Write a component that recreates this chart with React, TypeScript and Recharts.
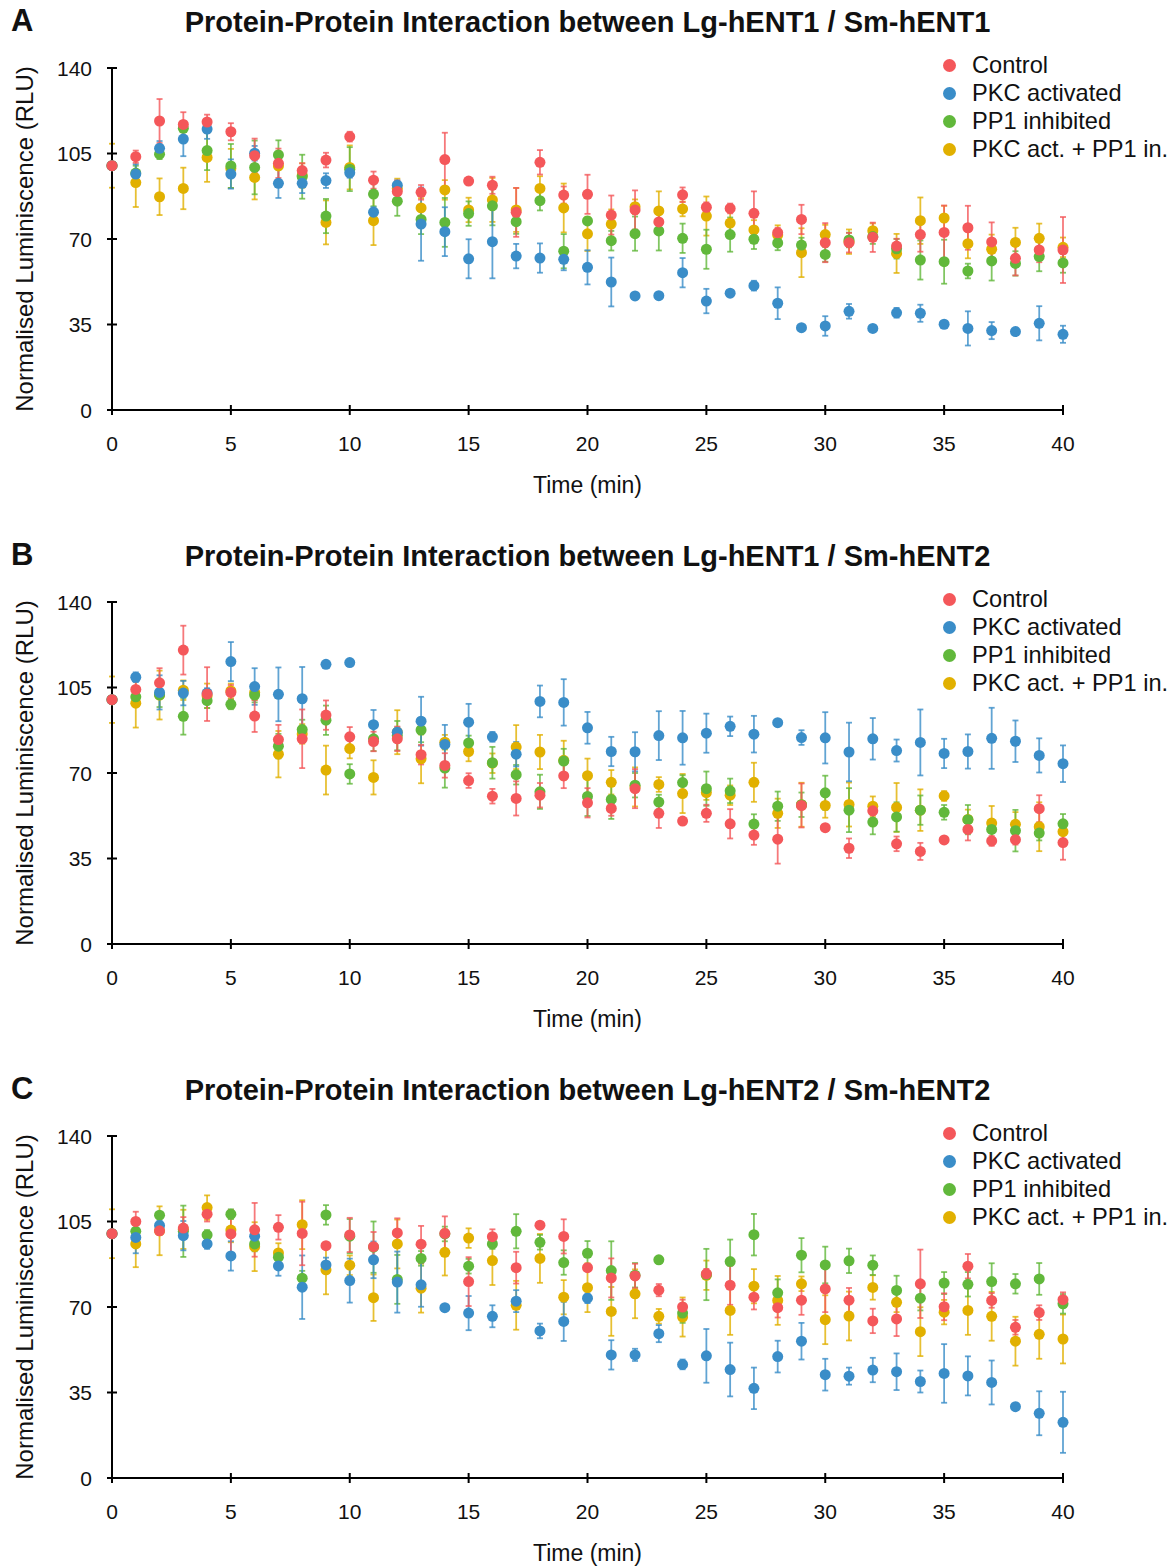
import React from 'react';
import { ScatterChart, Scatter, XAxis, YAxis, ErrorBar } from 'recharts';

// time points (min)
const time = [0, 1, 2, 3, 4, 5, 6, 7, 8, 9, 10, 11, 12, 13, 14, 15, 16, 17, 18, 19, 20, 21, 22, 23, 24, 25, 26, 27, 28, 29, 30, 31, 32, 33, 34, 35, 36, 37, 38, 39, 40];
const xTicks = [0, 5, 10, 15, 20, 25, 30, 35, 40];
const yTicks = [0, 35, 70, 105, 140];

const seriesNames = ['Control', 'PKC activated', 'PP1 inhibited', 'PKC act. + PP1 in.'];
const seriesColors = ['#F4575A', '#3A8DC8', '#61B83B', '#E1B000'];

const titles = [
  'Protein-Protein Interaction between Lg-hENT1 / Sm-hENT1',
  'Protein-Protein Interaction between Lg-hENT1 / Sm-hENT2',
  'Protein-Protein Interaction between Lg-hENT2 / Sm-hENT2',
];
const letters = ['A', 'B', 'C'];

// Panel A
const controlA = [100, 103.7, 118.3, 116.9, 117.9, 113.9, 104.1, 101, 98, 102.3, 111.9, 94.1, 89.4, 89.1, 102.5, 93.7, 92, 80.9, 101.4, 88, 88.3, 79.8, 81.9, 77, 88.1, 83, 82.5, 80.5, 72.6, 78, 68.5, 68.5, 70.7, 67.1, 71.8, 72.7, 74.6, 68.8, 62.1, 65.5, 65.5];
const controlAErr = [0, 2.5, 9, 5, 3, 3.5, 7, 6, 3, 3, 2, 3.5, 4.5, 3, 11, 1, 3.5, 10, 5, 3.5, 8, 8, 8, 4, 3, 2, 2, 9, 2, 6, 8, 4, 6, 3, 7, 11, 9, 8, 7, 5, 13.5];
const pkcA = [100, 96.6, 107.1, 110.9, 115, 96.6, 105.1, 92.8, 92.8, 93.9, 97.1, 81, 92, 76.1, 73, 61.9, 68.9, 63, 62.2, 61.7, 58.4, 52.4, 46.7, 46.8, 56.2, 44.6, 47.8, 50.9, 43.7, 33.7, 34.4, 40.4, 33.4, 39.8, 39.6, 35.1, 33.4, 32.5, 32.1, 35.5, 31];
const pkcAErr = [0, 4, 3, 7, 4, 6, 3, 6, 4, 3, 2, 2, 2, 15, 10, 8, 15, 5, 6, 4.5, 7, 10, 1, 1, 6, 5, 1, 2, 6.5, 1, 4, 3, 1, 2, 3.5, 1, 7, 3.5, 1, 7, 3.5];
const pp1A = [100, 97, 104.7, 115.3, 106.2, 99.9, 99.3, 104.4, 95.5, 79.4, 98.6, 88.4, 85.5, 78, 76.8, 80.4, 83.6, 77.1, 85.7, 65, 77.4, 69.3, 72.2, 73.3, 70.3, 65.8, 71.8, 69.9, 68.4, 67.5, 63.7, 69.6, 71, 66, 61.4, 60.7, 56.9, 61, 60, 62.8, 60.2];
const pp1AErr = [0, 3, 2, 3, 8, 9, 11, 6, 9, 7, 9, 5, 6, 6, 10, 5, 8, 5, 4, 7, 1, 4, 7, 8, 6, 8, 7, 4, 3, 3, 3, 3, 3, 4, 8, 9, 3, 8, 5, 6, 4];
const comboA = [100, 93.1, 87.3, 90.7, 103.4, 98.9, 95.2, 99.9, 96, 76.8, 99.3, 77.5, 90.7, 82.7, 90.1, 81.9, 86, 81.9, 90.7, 82.7, 72.1, 76.1, 83.2, 81.5, 82.3, 79.4, 76.5, 73.7, 71.6, 64.4, 71.8, 68.9, 73.4, 64.1, 77.5, 78.6, 68.1, 65.8, 68.6, 70.3, 66.6];
const comboAErr = [9, 10, 7.5, 8.5, 10, 8, 9, 6, 5, 9, 9, 10, 4, 4, 4, 5, 9, 9, 5, 10, 7, 6, 3, 8, 3, 8, 5, 4, 4, 10, 4, 5, 3, 8, 9.5, 5, 6, 6, 6, 6, 4];

// Panel B
const controlB = [100, 104.2, 106.9, 120.3, 102.3, 103, 93.3, 83.7, 84, 93.7, 84.8, 82.9, 84, 77.5, 73.1, 66.9, 60.5, 59.6, 60.9, 68.8, 57.8, 55.5, 63.6, 53.5, 50.3, 53.5, 49.2, 44.6, 42.9, 56.7, 47.6, 39.2, 54.5, 41, 37.9, 42.6, 46.9, 42.2, 42.7, 55.4, 41.5];
const controlBErr = [0, 5.5, 6, 10, 11, 3, 6.5, 6, 12, 6, 4, 4, 5, 4, 5, 3, 3, 7, 5, 5, 6, 3, 8, 6, 1, 3.5, 6, 4, 10, 9, 1, 4, 3, 3, 3.5, 1, 4.5, 2, 2, 5.5, 7];
const pkcB = [100, 109.2, 103, 102.7, 102.7, 115.6, 105.4, 102.2, 100.4, 114.5, 115.2, 89.8, 86.7, 91.2, 81.7, 90.8, 84.8, 77.7, 99.3, 98.9, 88.5, 78.8, 78.7, 85.3, 84.4, 86.3, 89.1, 85.9, 90.6, 84.5, 84.4, 78.6, 84, 79.2, 82.5, 78, 78.8, 84.2, 83, 77.2, 73.8];
const pkcBErr = [0, 2, 7, 5, 2, 8, 7.5, 11, 13, 1, 1, 6, 2, 10, 8, 7.5, 2, 5, 6.5, 9.5, 6.5, 6, 8, 10, 11, 8, 4, 7.5, 1, 3, 10.5, 12, 8.5, 4.5, 13.5, 6, 7, 12.5, 8.5, 7, 7.5];
const pp1B = [100, 101.2, 102, 93.2, 99.6, 98.1, 101.9, 81, 87.8, 91.6, 69.6, 84, 85.3, 87.6, 72, 82.3, 74.2, 69.3, 62.3, 74.9, 60.4, 59.2, 65, 58.1, 66.1, 63.6, 62.7, 49.1, 56.4, 57, 61.9, 54.8, 49.9, 52, 54.8, 53.9, 50.9, 46.9, 46.4, 45.4, 49.2];
const pp1BErr = [0, 3, 5, 7.5, 3, 2, 3, 5, 4, 6, 4, 5, 6, 5, 8, 3, 6.5, 4, 7, 5, 8, 8, 5, 3, 3, 7, 5, 4, 6, 5, 7, 9, 5, 6, 6, 3, 6, 4, 8.5, 3, 4];
const comboB = [100, 98.6, 101.9, 103.9, 101.6, 103.6, 103, 77.7, 86, 71.2, 80, 68.2, 86.7, 75.8, 82.6, 78.8, 74, 80.6, 78.6, 75.2, 68.9, 66.2, 64.3, 65.3, 61.6, 62, 60.9, 66.2, 53.5, 57, 56.7, 57.1, 56.4, 55.9, 54.8, 60.6, 51, 49.5, 49, 48, 46];
const comboBErr = [9.5, 10, 10, 4, 5, 3, 3, 9.5, 4, 10, 4, 7, 9, 10, 3, 4, 4, 9, 7, 8, 7, 5, 8, 3, 8, 3, 4, 8, 6, 9, 5, 9, 4, 10, 8.5, 2, 4, 7, 5, 10, 4];

// Panel C
const controlC = [100, 105, 101.2, 102.3, 108, 99.9, 101.6, 102.6, 100.1, 95.1, 99.5, 94.7, 100.3, 95.7, 100.1, 80.4, 98.8, 86.1, 103.5, 98.9, 86.1, 81.9, 82.7, 76.9, 70, 83.6, 78.9, 74, 69.7, 72.8, 77.4, 72.8, 64.3, 65.1, 79.5, 70.1, 86.7, 72.7, 61.7, 67.7, 73];
const controlCErr = [0, 4, 1.5, 4.5, 3, 9.8, 11, 5, 13, 1, 7, 6, 6, 7.5, 7, 10, 3, 6.5, 1, 7, 1, 8, 5, 2.5, 3, 2, 8, 5, 4, 6, 9.5, 5, 5, 7, 14, 5.5, 5, 3, 3, 3, 3];
const pkcC = [100, 98.5, 103.4, 99.2, 95.8, 90.9, 99, 86.8, 78.1, 87.2, 80.8, 89.3, 80.2, 79.1, 69.7, 67.5, 66.2, 72.4, 60.2, 64.1, 73.6, 50.4, 50.4, 59.1, 46.5, 50, 44.4, 36.7, 49.7, 56, 42.3, 41.7, 44.2, 43.5, 39.5, 42.8, 41.8, 39.1, 29.2, 26.5, 22.8];
const pkcCErr = [0, 6.5, 2, 6, 2, 6, 3, 4, 13, 3, 9, 7.5, 12.5, 9, 1, 7, 4.5, 4.5, 3, 8, 2, 6, 2.5, 3.5, 2, 11, 11, 8.5, 6.5, 7.5, 6.5, 3.5, 5, 7.5, 4.5, 12, 8, 9, 1, 9, 12.5];
const pp1C = [100, 101, 107.6, 101, 99.5, 108, 95.8, 90.4, 81.8, 107.7, 99, 94.5, 81.3, 89.9, 99.9, 86.7, 95.8, 101, 96.5, 88.2, 92, 84.9, 83, 89.3, 67.5, 83.3, 88.6, 99.6, 75.8, 91.2, 87.2, 88.9, 87.1, 76.8, 73.6, 79.8, 79.3, 80.4, 79.5, 81.5, 71.3];
const pp1CErr = [0, 3, 1, 10.5, 2, 2, 3, 3, 3, 4, 7, 10.5, 10, 3, 3, 3, 2, 7, 3, 5, 5, 12, 5, 1, 4, 10.5, 9, 8.5, 5.5, 7, 7.5, 5, 4, 6, 5, 4.5, 5, 7.5, 4, 6.5, 4];
const comboC = [100, 95.8, 101.2, 101.8, 110.7, 101.5, 94.7, 92.1, 103.7, 85.2, 87.1, 73.8, 95.8, 77.7, 92.4, 98.2, 89, 70.7, 89.9, 74, 77.9, 68.2, 75.4, 66.2, 65.9, 83, 68.6, 78.5, 72.7, 79.5, 64.8, 66.3, 78, 71.9, 59.9, 67.9, 68.6, 66.2, 56, 58.8, 56.9];
const comboCErr = [10, 9.5, 10, 8, 5, 5, 10, 4, 10, 10, 4, 9.5, 10, 10, 9.5, 4, 10, 10, 10, 7, 10, 10, 10, 3, 8, 6, 10, 7, 10, 3, 10, 10, 5, 4, 10, 5, 10, 10, 10, 10, 10];

const panelValues = [
  [controlA, pkcA, pp1A, comboA],
  [controlB, pkcB, pp1B, comboB],
  [controlC, pkcC, pp1C, comboC],
];
const panelErrors = [
  [controlAErr, pkcAErr, pp1AErr, comboAErr],
  [controlBErr, pkcBErr, pp1BErr, comboBErr],
  [controlCErr, pkcCErr, pp1CErr, comboCErr],
];

const XTick = ({ x, y, payload }: any) => (
  <g>
    <line x1={x} x2={x} y1={y - 5} y2={y + 5} stroke="#000" strokeWidth={2} />
    <text x={x} y={y + 33} dy="0.36em" textAnchor="middle" fontSize={21} fill="#111">{payload.value}</text>
  </g>
);

const YTick = ({ x, y, payload }: any) => (
  <g>
    <line x1={x - 5} x2={x + 5} y1={y} y2={y} stroke="#000" strokeWidth={2} />
    <text x={x - 20} y={y} dy="0.36em" textAnchor="end" fontSize={21} fill="#111">{payload.value}</text>
  </g>
);

function Panel({ index }: { index: number }) {
  const values = panelValues[index];
  const errors = panelErrors[index];
  const series = seriesNames.map((name, s) => ({
    name,
    color: seriesColors[s],
    data: time.map((t, i) => ({ t, v: values[s][i], e: errors[s][i] })),
  }));
  // drawing order: last legend entry at the bottom, Control on top
  const drawOrder = [...series].reverse();

  return (
    <div style={{ position: 'absolute', left: 0, top: index * 534, width: 1176, height: 534 }}>
      <div style={{ position: 'absolute', left: 11, top: 3, fontSize: 31, fontWeight: 'bold', lineHeight: '36px' }}>{letters[index]}</div>
      <div style={{ position: 'absolute', left: 92, top: 4, width: 991, textAlign: 'center', fontSize: 29, fontWeight: 'bold', lineHeight: '36px' }}>{titles[index]}</div>
      <ScatterChart width={1176} height={534} margin={{ top: 68, right: 113, bottom: 34, left: 0 }}>
        <XAxis
          type="number"
          dataKey="t"
          domain={[0, 40]}
          ticks={xTicks}
          height={90}
          tickSize={0}
          tickMargin={0}
          tickLine={false}
          axisLine={{ stroke: '#000', strokeWidth: 2 }}
          tick={<XTick />}
          label={{ value: 'Time (min)', position: 'insideBottom', offset: 7, fontSize: 23, fill: '#111' }}
        />
        <YAxis
          type="number"
          dataKey="v"
          domain={[0, 140]}
          ticks={yTicks}
          width={112}
          tickSize={0}
          tickMargin={0}
          tickLine={false}
          axisLine={{ stroke: '#000', strokeWidth: 2 }}
          tick={<YTick />}
          label={{ value: 'Normalised Luminiscence (RLU)', angle: -90, position: 'insideLeft', offset: 24, fontSize: 24, fill: '#111', style: { textAnchor: 'middle' } }}
        />
        {drawOrder.map(s => (
          <Scatter
            key={s.name}
            name={s.name}
            data={s.data}
            fill={s.color}
            isAnimationActive={false}
            shape={(p: any) => <circle cx={p.cx} cy={p.cy} r={5.5} fill={s.color} />}
          >
            <ErrorBar dataKey="e" direction="y" width={3} stroke={s.color} strokeOpacity={0.8} strokeWidth={1.8} isAnimationActive={false} />
          </Scatter>
        ))}
      </ScatterChart>
      <div style={{ position: 'absolute', left: 943, top: 51 }}>
        {series.map(s => (
          <div key={s.name} style={{ display: 'flex', alignItems: 'center', height: 28.2, fontSize: 23.6, whiteSpace: 'nowrap' }}>
            <span style={{ display: 'inline-block', width: 13, height: 13, borderRadius: '50%', background: s.color, marginRight: 16 }} />
            <span>{s.name}</span>
          </div>
        ))}
      </div>
    </div>
  );
}

export default function App() {
  return (
    <div style={{ position: 'absolute', left: 0, top: 0, width: 1176, height: 1567, overflow: 'hidden', background: '#fff', fontFamily: '"Liberation Sans", Arial, Helvetica, sans-serif', color: '#111' }}>
      {[0, 1, 2].map(i => (
        <Panel key={i} index={i} />
      ))}
    </div>
  );
}
